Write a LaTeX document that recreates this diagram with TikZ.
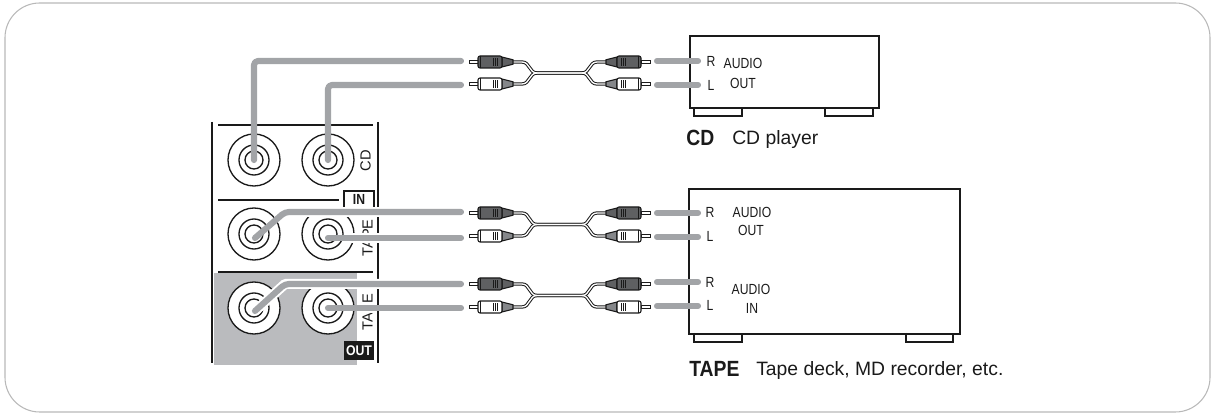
\documentclass[tikz,border=0pt]{standalone}
\usepackage{fontspec}
\setmainfont{Liberation Sans}
\newfontfamily\narrowf[FakeStretch=0.83]{Liberation Sans}
\newfontfamily\boldnarrowf[FakeStretch=0.88]{Liberation Sans Bold}
\definecolor{cablegray}{HTML}{A2A4A7}
\definecolor{panelgray}{HTML}{BABBBE}
\definecolor{framegray}{HTML}{B8B8B8}
\definecolor{plugdark}{HTML}{5F6062}
\definecolor{strainlight}{HTML}{85878A}
\definecolor{ink}{HTML}{1A1A1A}
\tikzset{
  line/.style={draw=ink,line width=1.1pt},
  boxline/.style={draw=ink,line width=1.5pt},
  graycable/.style={draw=cablegray,line width=4.6pt,line cap=round,line join=round,rounded corners=3pt},
  halo/.style={draw=white,line width=7.5pt,line join=round},
  jack/.style={circle,draw=ink,line width=1pt,fill=white,inner sep=0pt,minimum size=#1},
  small/.style={font=\narrowf\fontsize{11}{13}\selectfont,text=ink,inner sep=0pt},
  rotlabel/.style={font=\fontsize{11}{13}\selectfont,text=ink,inner sep=0pt,rotate=90},
  caption/.style={font=\fontsize{14.5}{16}\selectfont,text=ink,inner sep=0pt,anchor=west},
  captionb/.style={font=\boldnarrowf\fontsize{16.5}{18}\selectfont,text=ink,inner sep=0pt,anchor=west},
  thincord/.style={draw=ink,line width=2.5pt,line join=round},
  thincordw/.style={draw=white,line width=1pt,line join=round},
}
% one half plug: #1 = x direction (+1 left side / -1 right side), #2 = y, #3 = body fill, #4 = strain fill
\newcommand{\halfplug}[4]{%
  \begin{scope}[shift={(559.5,#2)},xscale=#1]
    \draw[draw=ink,line width=.6pt,fill=white] (-90.5,-1.6) rectangle (-81.5,1.6);
    \draw[draw=ink,line width=.8pt,fill=#4] (-57.5,-5) -- (-46.5,-2.2) -- (-46.5,2.2) -- (-57.5,5) -- cycle;
    \draw[draw=ink,line width=.8pt,fill=#3,rounded corners=1.5pt] (-81.5,-6) rectangle (-57.5,6);
    \draw[draw=ink,line width=.5pt] (-79,-6) -- (-79,6);
    \foreach \r in {-66,-64,-62}{\draw[draw=ink,line width=.5pt] (\r,-3.6) -- (\r,3.6);}
  \end{scope}}
% cable with two plugs at each end: #1 upper y, #2 lower y
\newcommand{\rcaset}[2]{%
  \pgfmathsetmacro{\ym}{(#1+#2)/2}
  \foreach \st in {thincord,thincordw}{
    \draw[\st] (513,#1) -- (522,#1) .. controls (530,#1) and (529,\ym) .. (537,\ym) -- (582,\ym) .. controls (590,\ym) and (589,#1) .. (597,#1) -- (606,#1);
    \draw[\st] (513,#2) -- (522,#2) .. controls (530,#2) and (529,\ym) .. (537,\ym) -- (582,\ym) .. controls (590,\ym) and (589,#2) .. (597,#2) -- (606,#2);
  }
  \halfplug{1}{#1}{plugdark}{plugdark}
  \halfplug{-1}{#1}{plugdark}{plugdark}
  \halfplug{1}{#2}{white}{strainlight}
  \halfplug{-1}{#2}{white}{strainlight}}
\newcommand{\audiojack}[3]{%
  \node[jack=52*0.75pt] (#1) at (#2,#3) {};
  \node[jack=30*0.75pt] (#1m) at (#2,#3) {};
  \node[jack=18*0.75pt] (#1i) at (#2,#3) {};}
\begin{document}
\begin{tikzpicture}[x=0.75pt,y=-0.75pt]
\useasboundingbox (0,0) rectangle (1215,416);
\draw[draw=framegray,line width=.8pt,rounded corners=26pt] (5,3) rectangle (1210,412);

% panel
\fill[panelgray] (214,273) rectangle (357,365);
\draw[line] (212,122) -- (212,363);
\draw[line] (378,122) -- (378,363);
\draw[line] (218,125) -- (373,125);
\draw[line] (218,200) -- (339,200);
\draw[line] (218,272) -- (373,272);
\draw[line] (344,207) -- (344,191) -- (374,191) -- (374,207);
\node[font=\narrowf\fontsize{11}{13}\selectfont\bfseries,text=ink,inner sep=0pt] (inlabel) at (359,199.5) {IN};
\node[rotlabel] (cdlabel) at (365.5,161) {CD};
\node[rotlabel] (tapein) at (367.5,238) {TAPE};
\node[rotlabel] (tapeout) at (367.5,312) {TAPE};
\fill[ink] (344,341) rectangle (374,360);
\node[font=\boldnarrowf\fontsize{10.5}{12}\selectfont,text=white,inner sep=0pt] (outlabel) at (359,350.5) {OUT};

\audiojack{ja}{254}{160}
\audiojack{jb}{328}{160}
\audiojack{jc}{254}{234}
\audiojack{jd}{328}{234}
\audiojack{je}{254}{308}
\audiojack{jf}{328}{308}

% free ends at the left of the cable sets
\coordinate (ca) at (461,61);
\coordinate (cb) at (461,85);
\coordinate (cc) at (461,212);
\coordinate (cd) at (461,238);
\coordinate (ce) at (461,284);
\coordinate (cf) at (461,308);
\coordinate (bc) at (285,212);
\coordinate (be) at (285,284);
\coordinate (ka) at (254,160);
\coordinate (kb) at (328,160);
\coordinate (kc) at (255,238);
\coordinate (kd) at (328,238);
\coordinate (ke) at (255,311);
\coordinate (kf) at (328,308);

\draw[graycable] (ka) -- (254,61) -- (ca);
\draw[graycable] (kb) -- (328,85) -- (cb);
\draw[halo] (300,212) -- (cc);
\draw[halo] (350,238) -- (cd);
\draw[graycable] (kc) -- (bc) -- (cc);
\draw[graycable] (kd) -- (cd);
\draw[halo] (ke) -- (be) -- (ce);
\draw[graycable] (ke) -- (be) -- (ce);
\draw[halo] (358,308) -- (376,308);
\draw[graycable] (kf) -- (cf);

% cable sets
\rcaset{62}{84}
\rcaset{213}{236}
\rcaset{284}{307}

% CD player
\node[boxline,minimum width=189*0.75pt,minimum height=72*0.75pt,inner sep=0pt,anchor=north west] (cdbox) at (689,35) {};
\draw[line] (694,107) -- (694,116) -- (742,116) -- (742,107);
\draw[line] (825,107) -- (825,116) -- (873,116) -- (873,107);
\coordinate (da) at (657,61);
\coordinate (db) at (657,85);
\draw[graycable] (da) -- (698,61);
\draw[graycable] (db) -- (698,85);
\node[small] (cdr) at (711,61) {R};
\node[small] (cdl) at (711,85) {L};
\node[small] (cdaudio) at (743,63.5) {AUDIO};
\node[small] (cdout) at (743,83) {OUT};
\node[captionb] (cdcap) at (686,138) {CD};
\node[caption] (cdtext) at (732,140) {CD player};

% tape deck
\node[boxline,minimum width=271*0.75pt,minimum height=145*0.75pt,inner sep=0pt,anchor=north west] (tapebox) at (688,188) {};
\draw[line] (694,333) -- (694,342) -- (742,342) -- (742,333);
\draw[line] (906,333) -- (906,342) -- (953,342) -- (953,333);
\coordinate (dc) at (657,213);
\coordinate (dd) at (657,237);
\coordinate (de) at (657,282);
\coordinate (df) at (657,306);
\draw[graycable] (dc) -- (698,213);
\draw[graycable] (dd) -- (698,237);
\draw[graycable] (de) -- (698,282);
\draw[graycable] (df) -- (698,306);
\node[small] (tr1) at (710,212) {R};
\node[small] (tl1) at (710,236) {L};
\node[small] (tr2) at (710,282) {R};
\node[small] (tl2) at (710,305) {L};
\node[small] (taudio1) at (752,212) {AUDIO};
\node[small] (tout) at (751,230) {OUT};
\node[small] (taudio2) at (751,289) {AUDIO};
\node[small] (tin) at (752,308) {IN};
\node[captionb] (tapecap) at (689,369) {TAPE};
\node[caption] (tapetext) at (756,371) {Tape deck, MD recorder, etc.};
\end{tikzpicture}
\end{document}
